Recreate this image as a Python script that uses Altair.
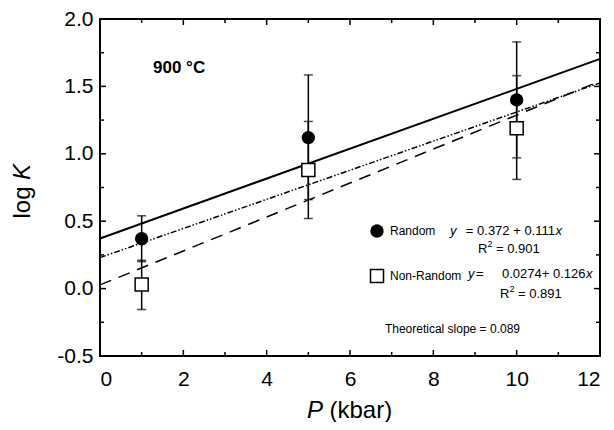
import altair as alt
import pandas as pd

# ---- data ----
pressure = [1, 5, 10]
random_y = [0.37, 1.12, 1.40]
random_lo = [0.20, 0.66, 0.97]
random_hi = [0.54, 1.585, 1.83]
nonrandom_y = [0.03, 0.88, 1.19]
nonrandom_lo = [-0.155, 0.52, 0.81]
nonrandom_hi = [0.21, 1.24, 1.58]

line_x = [0, 12]
fit_random = [0.372, 1.704]
fit_nonrandom = [0.0274, 1.539]
fit_dashdot = [0.23, 1.526]

x_major = [0, 2, 4, 6, 8, 10, 12]
x_minor = [1, 3, 5, 7, 9, 11]
y_major = [-0.5, 0.0, 0.5, 1.0, 1.5, 2.0]
y_minor = [-0.25, 0.25, 0.75, 1.25, 1.75]

W, H = 500, 337
FONT = "Liberation Sans"

xs = alt.Scale(domain=[0, 12], nice=False, zero=False)
ys = alt.Scale(domain=[-0.5, 2.0], nice=False, zero=False)
xaxis = alt.Axis(values=x_major, title=None, grid=False, domain=False, ticks=False,
                 labelFontSize=21, labelFont=FONT, labelColor="black", labelPadding=12,
                 format="d")
yaxis = alt.Axis(values=y_major, title=None, grid=False, domain=False, ticks=False,
                 labelFontSize=21, labelFont=FONT, labelColor="black", labelPadding=7,
                 labelExpr="datum.value < 0 ? '-' + format(-datum.value, '.1f') : format(datum.value, '.1f')")


def X(f):
    return alt.X(f, type="quantitative", scale=xs, axis=xaxis)


def Y(f):
    return alt.Y(f, type="quantitative", scale=ys, axis=yaxis)


one = pd.DataFrame({"a": [0]})


def txt(s, x, y, size=12, style="normal", weight="normal", align="left", angle=0):
    return alt.Chart(one).mark_text(
        text=s, font=FONT, fontSize=size, fontStyle=style, fontWeight=weight,
        align=align, baseline="middle", angle=angle, color="black"
    ).encode(x=alt.value(x), y=alt.value(y))


# fit lines
def fit_layer(yvals, dash, width):
    df = pd.DataFrame({"P": line_x, "y": yvals})
    kw = dict(color="black", strokeWidth=width)
    if dash:
        kw["strokeDash"] = dash
    return alt.Chart(df).mark_line(**kw).encode(x=X("P"), y=Y("y"))


lines = [
    fit_layer(fit_random, None, 2),
    fit_layer(fit_dashdot, [6, 2, 1.5, 2, 1.5, 2], 1.5),
    fit_layer(fit_nonrandom, [12, 8], 1.5),
]

err = pd.DataFrame({
    "P": pressure + pressure,
    "lo": random_lo + nonrandom_lo,
    "hi": random_hi + nonrandom_hi,
})
err_rule = alt.Chart(err).mark_rule(color="black", strokeWidth=1.5).encode(
    x=X("P"), y=Y("lo"), y2=alt.Y2("hi"))
cap_lo = alt.Chart(err).mark_tick(color="black", orient="horizontal", size=9, thickness=1.5).encode(
    x=X("P"), y=Y("lo"))
cap_hi = alt.Chart(err).mark_tick(color="black", orient="horizontal", size=9, thickness=1.5).encode(
    x=X("P"), y=Y("hi"))

df_r = pd.DataFrame({"P": pressure, "y": random_y})
df_n = pd.DataFrame({"P": pressure, "y": nonrandom_y})
pts_n = alt.Chart(df_n).mark_point(shape="square", size=170, filled=True, fill="white",
                                   stroke="black", strokeWidth=1.5, opacity=1).encode(x=X("P"), y=Y("y"))
pts_r = alt.Chart(df_r).mark_point(shape="circle", size=180, filled=True, color="black",
                                   opacity=1).encode(x=X("P"), y=Y("y"))


# inward ticks on all four sides
def xt(vals, length):
    df = pd.DataFrame({"v": vals})
    b = alt.Chart(df).mark_rule(color="black", strokeWidth=1.5).encode(
        x=X("v"), y=alt.value(H), y2=alt.value(H - length))
    t = alt.Chart(df).mark_rule(color="black", strokeWidth=1.5).encode(
        x=X("v"), y=alt.value(0), y2=alt.value(length))
    return [b, t]


def yt(vals, length):
    df = pd.DataFrame({"v": vals})
    l = alt.Chart(df).mark_rule(color="black", strokeWidth=1.5).encode(
        y=Y("v"), x=alt.value(0), x2=alt.value(length))
    r = alt.Chart(df).mark_rule(color="black", strokeWidth=1.5).encode(
        y=Y("v"), x=alt.value(W), x2=alt.value(W - length))
    return [l, r]


ticks = xt(x_major, 6) + xt(x_minor, 4) + yt(y_major, 6) + yt(y_minor, 4)

# legend and annotations (plot-area pixel positions)
legend_marks = [
    alt.Chart(one).mark_point(shape="circle", size=180, filled=True, color="black", opacity=1).encode(
        x=alt.value(277), y=alt.value(212)),
    alt.Chart(one).mark_point(shape="square", size=170, filled=True, fill="white", stroke="black",
                              strokeWidth=1.5, opacity=1).encode(x=alt.value(277), y=alt.value(257)),
]
texts = [
    txt("900 °C", 53, 49, size=17, weight="bold"),
    # Random entry
    txt("Random", 290, 212, size=12),
    txt("y", 350, 212, size=13, style="italic"),
    txt("= 0.372 + 0.111", 455, 212, size=13, align="right"),
    txt("x", 455.5, 212, size=13, style="italic"),
    txt("R", 378, 230, size=13),
    txt("2", 387.5, 225, size=9),
    txt("= 0.901", 396, 230, size=13),
    # Non-Random entry
    txt("Non-Random", 290, 257, size=12),
    txt("y", 368, 255, size=13, style="italic"),
    txt("=", 376, 255, size=13),
    txt("0.0274+ 0.126", 485.5, 255, size=13, align="right"),
    txt("x", 486, 255, size=13, style="italic"),
    txt("R", 400, 275, size=13),
    txt("2", 409.5, 270, size=9),
    txt("= 0.891", 418, 275, size=13),
    txt("Theoretical slope = 0.089", 420, 310, size=12, align="right"),
    # axis titles
    txt("P", 207, 392, size=24, style="italic"),
    txt("(kbar)", 229.5, 392, size=24),
    txt("log", -77, 167.5, size=24, align="right", angle=270),
    txt("K", -77, 161, size=24, style="italic", align="left", angle=270),
]

chart = alt.layer(*lines, err_rule, cap_lo, cap_hi, pts_n, pts_r, *ticks, *legend_marks, *texts).properties(
    width=W, height=H, autosize="none",
    padding={"left": 92, "top": 11, "right": 6, "bottom": 66},
    background="white",
).configure_view(stroke="black", strokeWidth=2)

chart.save("out.html", embed_options={"renderer": "svg", "actions": False})
